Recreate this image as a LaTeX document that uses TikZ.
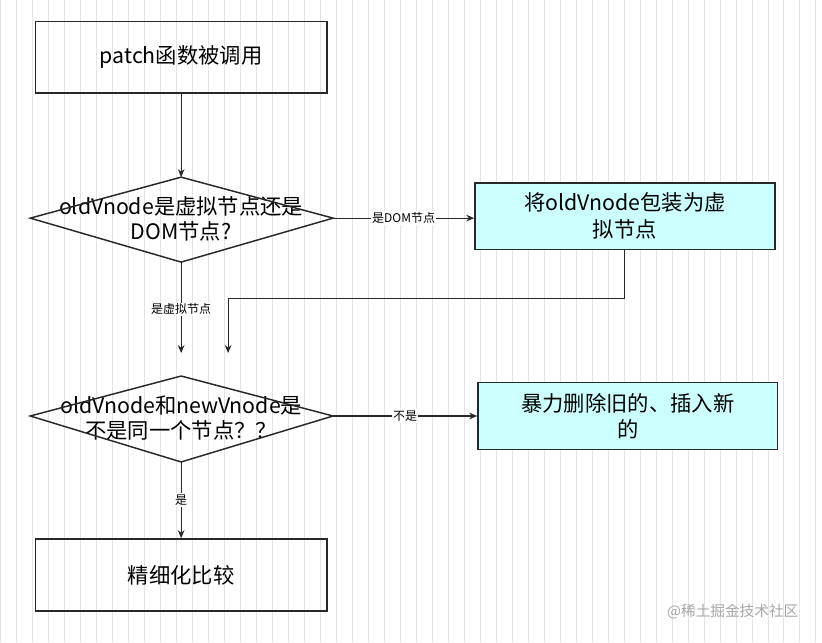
\documentclass[tikz,border=0pt]{standalone}
\usepackage{fontspec}
\setmainfont{Noto Sans CJK SC}
\usetikzlibrary{arrows.meta}
\definecolor{boxcyan}{RGB}{204, 255, 255}
\definecolor{gridgray}{RGB}{228, 228, 228}
\definecolor{linegray}{RGB}{40, 40, 40}

\begin{document}
\begin{tikzpicture}[x=0.75pt,y=-0.75pt,
    box/.style={draw=linegray,line width=1.1pt,minimum width=219pt,minimum height=54pt,font=\fontsize{16}{20}\selectfont},
    decide/.style={inner sep=0pt,font=\fontsize{16}{19}\selectfont,align=center},
    link/.style={draw=linegray,thick,-{Stealth[length=6pt,width=5pt]}},
    tag/.style={fill=white,font=\fontsize{9}{10}\selectfont,inner sep=1pt}]
        % Background and grid
        \fill[white] (0,0) rectangle (822,642);
        \draw[gridgray,step=16] (0,0) grid (822,642);
        \useasboundingbox (0,0) rectangle (822,642);

        % Main column
        \node[box] (call) at (181,57) {patch函数被调用};
        \node[decide] (isvirt) at (181,219) {oldVnode是虚拟节点还是\\DOM节点?};
        \node[decide] (same) at (181,418) {oldVnode和newVnode是\\不是同一个节点？？};
        \node[box] (fine) at (181,575) {精细化比较};

        % Diamond outlines
        \coordinate (isvirtN) at (181,177);
        \coordinate (isvirtS) at (181,262);
        \coordinate (isvirtE) at (333,218);
        \coordinate (sameN) at (181,376);
        \coordinate (sameS) at (181,462);
        \coordinate (sameE) at (333,416);
        \draw[linegray,line width=1.1pt] (isvirtN) -- (isvirtE) -- (isvirtS) -- (30,218) -- cycle;
        \draw[linegray,line width=1.1pt] (sameN) -- (sameE) -- (sameS) -- (30,416) -- cycle;

        % Side boxes
        \node[box,fill=boxcyan,minimum width=225pt,minimum height=50pt,align=center] (wrap) at (625,216) {将oldVnode包装为虚\\拟节点};
        \node[box,fill=boxcyan,minimum width=225pt,minimum height=50pt,align=center] (brute) at (628,416) {暴力删除旧的、插入新\\的};

        % Connectors
        \coordinate (virtend) at (181,353);
        \coordinate (wrapturn) at (625,298);
        \coordinate (wrapend) at (228,353);
        \draw[link] (call) -- (isvirtN);
        \draw[link] (isvirtE) -- node[tag] {是DOM节点} (wrap.west |- isvirtE);
        \draw[link] (isvirtS) -- node[tag,pos=0.52] {是虚拟节点} (virtend);
        \draw[link] (wrap.south) -- (wrapturn) -| (wrapend);
        \draw[link] (sameE) -- node[tag] {不是} (brute.west |- sameE);
        \draw[link] (sameS) -- node[tag] {是} (fine);

        % Watermark
        \node[text=gray!70,font=\fontsize{11}{12}\selectfont] (mark) at (733,612) {@稀土掘金技术社区};
\end{tikzpicture}
\end{document}
